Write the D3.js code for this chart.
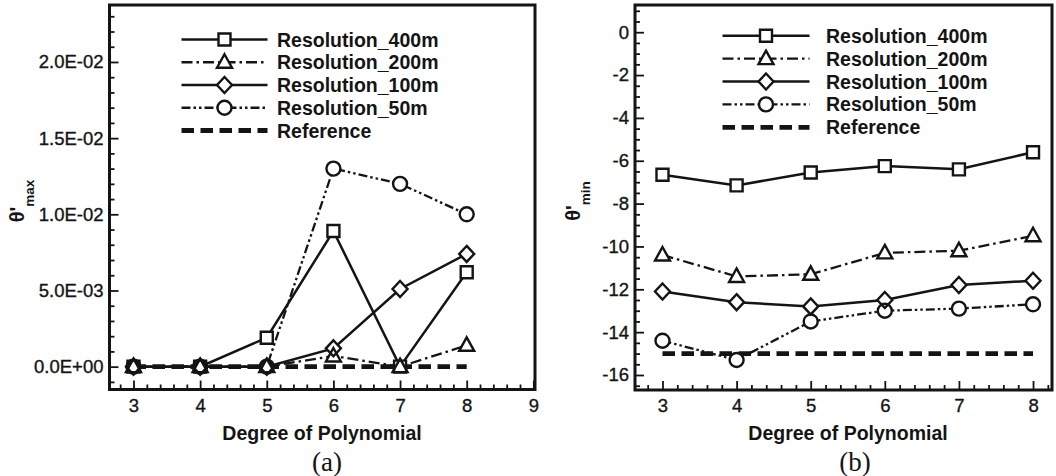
<!DOCTYPE html>
<html>
<head>
<meta charset="utf-8">
<script src="https://cdn.jsdelivr.net/npm/d3@7"></script>
<style>
  html, body { margin: 0; padding: 0; background: #fff; }
  svg { display: block; font-family: "Liberation Sans", Arial, sans-serif; }
</style>
</head>
<body>
<svg id="chart" width="1056" height="476"></svg>
<script>
// ---- data ----
const degrees = [3, 4, 5, 6, 7, 8];
const seriesNames = ["Resolution_400m", "Resolution_200m", "Resolution_100m", "Resolution_50m", "Reference"];

// panel (a): maximum perturbation
const thetaMax400 = [0, 0, 0.0019, 0.0089, 0, 0.0062];
const thetaMax200 = [0, 0, 0, 0.0007, 0, 0.0014];
const thetaMax100 = [0, 0, 0, 0.0012, 0.0051, 0.0074];
const thetaMax50  = [0, 0, 0, 0.0130, 0.0120, 0.0100];
const thetaMaxRef = [0, 0, 0, 0, 0, 0];

// panel (b): minimum perturbation
const thetaMin400 = [-6.65, -7.15, -6.55, -6.25, -6.4, -5.6];
const thetaMin200 = [-10.4, -11.4, -11.3, -10.3, -10.2, -9.5];
const thetaMin100 = [-12.1, -12.6, -12.8, -12.5, -11.8, -11.6];
const thetaMin50  = [-14.4, -15.3, -13.5, -13.0, -12.9, -12.7];
const thetaMinRef = [-15, -15, -15, -15, -15, -15];

// tick values and labels
const maxTickValues = [0, 0.005, 0.01, 0.015, 0.02];
const maxTickLabels = ["0.0E+00", "5.0E-03", "1.0E-02", "1.5E-02", "2.0E-02"];
const minTickValues = [0, -2, -4, -6, -8, -10, -12, -14, -16];
const minTickLabels = ["0", "-2", "-4", "-6", "-8", "-10", "-12", "-14", "-16"];
const degreeTicksA = [3, 4, 5, 6, 7, 8, 9];
const degreeTicksB = [3, 4, 5, 6, 7, 8];

// ---- drawing ----
const INK = "#141414";
const svg = d3.select("#chart");

const lineStyles = [
  { dash: null,              marker: "square",   width: 2.5 },
  { dash: "11,4,2.5,4",      marker: "triangle", width: 2.3 },
  { dash: null,              marker: "diamond",  width: 2.5 },
  { dash: "9,3,2.5,3,2.5,3", marker: "circle",   width: 2.3 },
  { dash: "12.5,6.5",        marker: null,       width: 4.8 }
];

function markerPath(type, cx, cy) {
  const p = d3.path();
  if (type === "square") {
    p.rect(cx - 6, cy - 6, 12, 12);
  } else if (type === "circle") {
    p.moveTo(cx + 7, cy);
    p.arc(cx, cy, 7, 0, 2 * Math.PI);
  } else if (type === "diamond") {
    p.moveTo(cx, cy - 8); p.lineTo(cx + 7.5, cy); p.lineTo(cx, cy + 8); p.lineTo(cx - 7.5, cy); p.closePath();
  } else if (type === "triangle") {
    p.moveTo(cx, cy - 8); p.lineTo(cx + 7.5, cy + 5.5); p.lineTo(cx - 7.5, cy + 5.5); p.closePath();
  }
  return p.toString();
}

function minorTicks(start, stop, step, majors, domain) {
  const out = [];
  const lo = Math.min(domain[0], domain[1]), hi = Math.max(domain[0], domain[1]);
  for (let i = 0; ; i++) {
    const v = +(start + i * step).toFixed(6);
    if (v > stop + 1e-9) break;
    if (v < lo || v > hi) continue;
    if (majors.some(m => Math.abs(m - v) < 1e-9)) continue;
    out.push(v);
  }
  return out;
}

function drawPanel(cfg) {
  const g = svg.append("g");
  const x = d3.scaleLinear().domain(cfg.xDomain).range(cfg.xRange);
  const y = d3.scaleLinear().domain(cfg.yDomain).range(cfg.yRange);
  const [x0, x1] = cfg.xRange, [y1, y0] = cfg.yRange;

  // minor + major ticks, pointing inward
  const xMinor = minorTicks(2.8, 9.0, 0.2, cfg.xTicks, cfg.xDomain);
  const yMinor = minorTicks(cfg.yMinorStart, cfg.yMinorStop, cfg.yMinorStep, cfg.yTicks, cfg.yDomain);

  const ax = g.append("g").attr("transform", `translate(0,${y1})`);
  ax.call(d3.axisBottom(x).tickValues(xMinor).tickSize(-5).tickFormat(""));
  ax.append("g").call(d3.axisBottom(x).tickValues(cfg.xTicks).tickSize(-9).tickPadding(9).tickFormat(d3.format("d")));

  const ay = g.append("g").attr("transform", `translate(${x0},0)`);
  ay.call(d3.axisLeft(y).tickValues(yMinor).tickSize(-5).tickFormat(""));
  ay.append("g").call(d3.axisLeft(y).tickValues(cfg.yTicks).tickSize(-9).tickPadding(6)
    .tickFormat((d, i) => cfg.yLabels[i]));

  g.selectAll(".domain").remove();
  g.selectAll(".tick line").attr("stroke", INK).attr("stroke-width", 1.8);
  g.selectAll(".tick text").attr("fill", INK).attr("font-size", 18.5)
    .attr("stroke", INK).attr("stroke-width", 0.35)
    .attr("font-family", "'Liberation Sans', Arial, sans-serif");

  // frame
  g.append("rect").attr("x", x0).attr("y", y0).attr("width", x1 - x0).attr("height", y1 - y0)
    .attr("fill", "none").attr("stroke", INK).attr("stroke-width", 3);

  // series lines (reference first so it sits underneath)
  const line = d3.line().x(d => x(d.x)).y(d => y(d.y));
  const order = [4, 0, 1, 2, 3];
  order.forEach(k => {
    const pts = degrees.map((d, i) => ({ x: d, y: cfg.series[k][i] }));
    g.append("path").attr("d", line(pts)).attr("fill", "none")
      .attr("stroke", INK).attr("stroke-width", lineStyles[k].width)
      .attr("stroke-dasharray", lineStyles[k].dash)
      .attr("stroke-linejoin", "miter");
  });

  // markers: white bodies first, then outlines on top
  const pts = [];
  [0, 1, 2, 3].forEach(k => degrees.forEach((d, i) =>
    pts.push({ k, d: markerPath(lineStyles[k].marker, x(d), y(cfg.series[k][i])) })));
  g.append("g").selectAll("path").data(pts).join("path")
    .attr("d", p => p.d).attr("fill", "#fff").attr("stroke", "none");
  g.append("g").selectAll("path").data(pts).join("path")
    .attr("d", p => p.d).attr("fill", "none").attr("stroke", INK).attr("stroke-width", 2.4);

  // legend
  const lg = g.append("g");
  seriesNames.forEach((name, k) => {
    const ly = cfg.legendY + k * cfg.legendStep;
    lg.append("line").attr("x1", cfg.legendX0).attr("x2", cfg.legendX1).attr("y1", ly).attr("y2", ly)
      .attr("stroke", INK).attr("stroke-width", lineStyles[k].width)
      .attr("stroke-dasharray", lineStyles[k].dash);
    if (lineStyles[k].marker) {
      const mx = (cfg.legendX0 + cfg.legendX1) / 2;
      lg.append("path").attr("d", markerPath(lineStyles[k].marker, mx, ly))
        .attr("fill", "#fff").attr("stroke", INK).attr("stroke-width", 2.4);
    }
    lg.append("text").attr("x", cfg.legendTextX).attr("y", ly).attr("dy", "0.36em")
      .attr("font-size", 19.5).attr("font-weight", "bold").attr("fill", INK).text(name);
  });

  // axis titles
  g.append("text").attr("x", cfg.titleX).attr("y", 440)
    .attr("text-anchor", "middle").attr("font-size", 19.5).attr("font-weight", "bold")
    .attr("fill", INK).text("Degree of Polynomial");

  const yt = g.append("text")
    .attr("transform", `translate(${cfg.yTitleX},${cfg.yTitleY}) rotate(-90)`)
    .attr("text-anchor", "middle").attr("font-weight", "bold").attr("fill", INK);
  yt.append("tspan").attr("font-size", 20).text("θ'");
  yt.append("tspan").attr("font-size", 13.5).attr("dy", 9.5).text(cfg.sub);

  // panel caption
  g.append("text").attr("x", cfg.captionX).attr("y", 471).attr("text-anchor", "middle")
    .attr("font-family", "'Liberation Serif', 'Times New Roman', serif")
    .attr("font-size", 27).attr("fill", INK).text(cfg.caption);
}

drawPanel({
  xDomain: [2.64, 9.025], xRange: [109.5, 535],
  yDomain: [-0.0015, 0.02374], yRange: [389.5, 5],
  xTicks: degreeTicksA, yTicks: maxTickValues, yLabels: maxTickLabels,
  yMinorStart: -0.001, yMinorStop: 0.023, yMinorStep: 0.001,
  series: [thetaMax400, thetaMax200, thetaMax100, thetaMax50, thetaMaxRef],
  legendX0: 181.5, legendX1: 267.5, legendTextX: 277, legendY: 39.5, legendStep: 22.75,
  titleX: 322, yTitleX: 24, yTitleY: 201, sub: "max",
  caption: "(a)", captionX: 327
});

drawPanel({
  xDomain: [2.629, 8.256], xRange: [635, 1052],
  yDomain: [-16.7, 1.27], yRange: [390, 5],
  xTicks: degreeTicksB, yTicks: minTickValues, yLabels: minTickLabels,
  yMinorStart: -16.5, yMinorStop: 1.0, yMinorStep: 0.5,
  series: [thetaMin400, thetaMin200, thetaMin100, thetaMin50, thetaMinRef],
  legendX0: 722.5, legendX1: 809.5, legendTextX: 826, legendY: 35.7, legendStep: 22.9,
  titleX: 848, yTitleX: 580, yTitleY: 201, sub: "min",
  caption: "(b)", captionX: 855
});
</script>
</body>
</html>
